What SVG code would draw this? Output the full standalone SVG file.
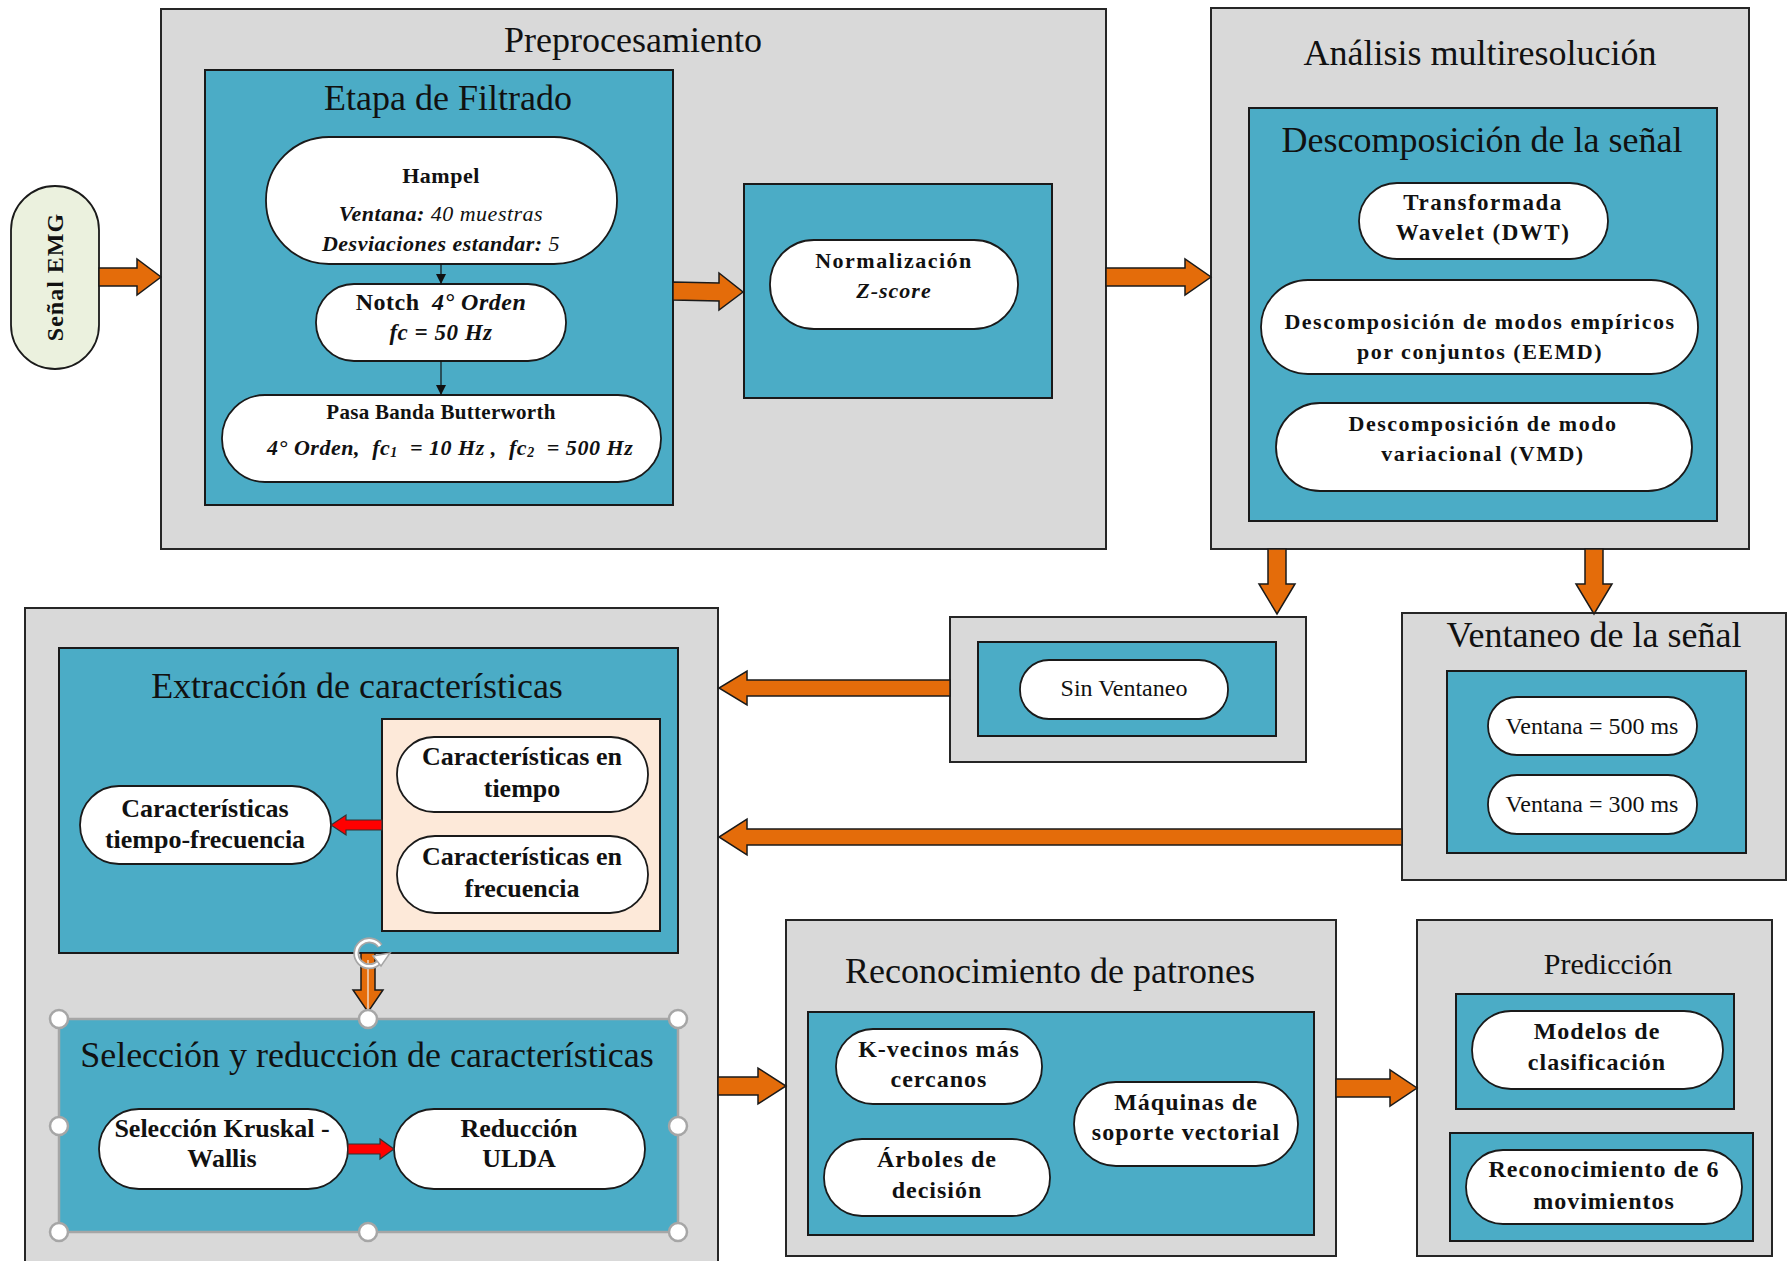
<svg xmlns="http://www.w3.org/2000/svg" width="1789" height="1261" viewBox="0 0 1789 1261">
<defs>
<style>
.gray{fill:#D9D9D9;stroke:#262626;stroke-width:2}
.teal{fill:#4BACC6;stroke:#1a1a1a;stroke-width:2}
.pill{fill:#FFFFFF;stroke:#1a1a1a;stroke-width:1.8}
.title{font-family:"Liberation Serif","Times New Roman",serif;font-size:36px;fill:#111;text-anchor:middle}
.b{font-family:"Liberation Serif","Times New Roman",serif;font-weight:bold;font-size:24px;letter-spacing:1px;fill:#111;text-anchor:middle}
.bc{font-family:"Liberation Serif","Times New Roman",serif;font-weight:bold;font-size:26px;fill:#111;text-anchor:middle}
.r{font-family:"Liberation Serif","Times New Roman",serif;font-size:24px;fill:#111;text-anchor:middle}
.oa{fill:#E46C0A;stroke:#1a1a1a;stroke-width:1.5}
.ra{fill:#FF0000;stroke:#333;stroke-width:1.2}
.h{fill:#FFFFFF;stroke:#A6A6A6;stroke-width:2.5}
</style>
<marker id="ah" viewBox="0 0 10 10" refX="10" refY="5" markerWidth="10" markerHeight="10" markerUnits="userSpaceOnUse" orient="auto">
<path d="M0,0 L10,5 L0,10 Z" fill="#111"/>
</marker>
</defs>
<rect width="1789" height="1261" fill="#FFFFFF"/>

<g id="senal-emg">
<rect x="11" y="186" width="88" height="183" rx="44" ry="44" fill="#EBF1DE" stroke="#1a1a1a" stroke-width="1.8"/>
<text class="b" transform="translate(63,277) rotate(-90)">Señal EMG</text>
</g>

<g id="preprocesamiento">
<rect class="gray" x="161" y="9" width="945" height="540"/>
<text class="title" x="633" y="52">Preprocesamiento</text>
</g>

<g id="etapa-filtrado">
<rect class="teal" x="205" y="70" width="468" height="435"/>
<text class="title" x="448" y="110">Etapa de Filtrado</text>
</g>

<g id="hampel">
<rect class="pill" x="266" y="137" width="351" height="127" rx="63" ry="63"/>
<text class="b" x="441" y="183" style="font-size:22px;letter-spacing:0.5px">Hampel</text>
<text class="r" x="441" y="221" style="font-size:22px;font-style:italic;letter-spacing:0.5px"><tspan font-weight="bold">Ventana:</tspan> 40 muestras</text>
<text class="r" x="441" y="251" style="font-size:22px;font-style:italic;letter-spacing:0.5px"><tspan font-weight="bold">Desviaciones estandar:</tspan> 5</text>
</g>

<g id="notch">
<rect class="pill" x="316" y="284" width="250" height="77" rx="38" ry="38"/>
<text class="b" x="441" y="310" style="font-size:24px;letter-spacing:0.5px">Notch <tspan font-style="italic" dx="6">4° Orden</tspan></text>
<text class="b" x="441" y="340" style="font-size:23px;font-style:italic;letter-spacing:0.5px">fc = 50 Hz</text>
</g>

<g id="pasa-banda">
<rect class="pill" x="222" y="395" width="439" height="87" rx="43" ry="43"/>
<text class="b" x="441" y="419" style="font-size:21px;letter-spacing:0.3px">Pasa Banda Butterworth</text>
<text class="b" x="450" y="455" style="font-size:22px;font-style:italic;letter-spacing:0.3px" xml:space="preserve" textLength="366" lengthAdjust="spacing">4° Orden,  fc<tspan font-size="14" dy="2">1</tspan><tspan dy="-2">  = 10 Hz ,  fc</tspan><tspan font-size="14" dy="2">2</tspan><tspan dy="-2">  = 500 Hz</tspan></text>
</g>

<g id="normalizacion">
<rect class="teal" x="744" y="184" width="308" height="214"/>
<rect class="pill" x="770" y="240" width="248" height="89" rx="44" ry="44"/>
<text class="b" x="894" y="268" style="font-size:22px;letter-spacing:1.5px">Normalización</text>
<text class="b" x="894" y="298" style="font-size:22px;font-style:italic;letter-spacing:1px">Z-score</text>
</g>

<g id="analisis-multiresolucion">
<rect class="gray" x="1211" y="8" width="538" height="541"/>
<text class="title" x="1480" y="65">Análisis multiresolución</text>
</g>

<g id="descomposicion">
<rect class="teal" x="1249" y="108" width="468" height="413"/>
<text class="title" x="1482" y="152">Descomposición de la señal</text>
</g>

<g id="dwt">
<rect class="pill" x="1359" y="183" width="249" height="76" rx="38" ry="38"/>
<text class="b" x="1483" y="210" style="letter-spacing:1.5px;font-size:23px">Transformada</text>
<text class="b" x="1483" y="240" style="letter-spacing:1.5px;font-size:23px">Wavelet (DWT)</text>
</g>

<g id="eemd">
<rect class="pill" x="1261" y="280" width="437" height="94" rx="47" ry="47"/>
<text class="b" x="1480" y="329" style="letter-spacing:1.5px;font-size:22px">Descomposición de modos empíricos</text>
<text class="b" x="1480" y="359" style="letter-spacing:1.5px;font-size:22px">por conjuntos (EEMD)</text>
</g>

<g id="vmd">
<rect class="pill" x="1276" y="403" width="416" height="88" rx="44" ry="44"/>
<text class="b" x="1483" y="431" style="letter-spacing:1.5px;font-size:22px">Descomposición de modo</text>
<text class="b" x="1483" y="461" style="letter-spacing:1.5px;font-size:22px">variacional (VMD)</text>
</g>

<g id="sin-ventaneo">
<rect class="gray" x="950" y="617" width="356" height="145"/>
<rect class="teal" x="978" y="642" width="298" height="94"/>
<rect class="pill" x="1020" y="660" width="208" height="59" rx="29" ry="29"/>
<text class="r" x="1124" y="696" style="font-size:24px">Sin Ventaneo</text>
</g>

<g id="ventaneo">
<rect class="gray" x="1402" y="613" width="384" height="267"/>
<text class="title" x="1594" y="647">Ventaneo de la señal</text>
<rect class="teal" x="1447" y="671" width="299" height="182"/>
<rect class="pill" x="1488" y="697" width="209" height="58" rx="29" ry="29"/>
<text class="r" x="1592" y="734">Ventana = 500 ms</text>
<rect class="pill" x="1488" y="775" width="209" height="59" rx="29" ry="29"/>
<text class="r" x="1592" y="812">Ventana = 300 ms</text>
</g>

<g id="caracteristicas">
<rect class="gray" x="25" y="608" width="693" height="670"/>
</g>

<g id="extraccion">
<rect class="teal" x="59" y="648" width="619" height="305"/>
<text class="title" x="357" y="698">Extracción de características</text>
<rect x="382" y="719" width="278" height="212" fill="#FDE9D9" stroke="#1a1a1a" stroke-width="2"/>
</g>

<g id="car-tiempo">
<rect class="pill" x="397" y="737" width="251" height="75" rx="37" ry="37"/>
<text class="bc" x="522" y="765">Características en</text>
<text class="bc" x="522" y="797">tiempo</text>
</g>

<g id="car-frecuencia">
<rect class="pill" x="397" y="836" width="251" height="77" rx="38" ry="38"/>
<text class="bc" x="522" y="865">Características en</text>
<text class="bc" x="522" y="897">frecuencia</text>
</g>

<g id="car-tiempo-frecuencia">
<rect class="pill" x="80" y="786" width="251" height="78" rx="39" ry="39"/>
<text class="bc" x="205" y="817">Características</text>
<text class="bc" x="205" y="848">tiempo-frecuencia</text>
</g>

<g id="seleccion">
<rect x="59" y="1019" width="619" height="213" fill="#4BACC6" stroke="#A6A6A6" stroke-width="2.5"/>
<text class="title" x="367" y="1067">Selección y reducción de características</text>
</g>

<g id="kruskal">
<rect class="pill" x="99" y="1109" width="249" height="80" rx="40" ry="40"/>
<text class="bc" x="222" y="1137">Selección Kruskal -</text>
<text class="bc" x="222" y="1167">Wallis</text>
</g>

<g id="ulda">
<rect class="pill" x="394" y="1109" width="251" height="80" rx="40" ry="40"/>
<text class="bc" x="519" y="1137">Reducción</text>
<text class="bc" x="519" y="1167">ULDA</text>
</g>

<g id="reconocimiento-patrones">
<rect class="gray" x="786" y="920" width="550" height="336"/>
<text class="title" x="1050" y="983">Reconocimiento de patrones</text>
<rect class="teal" x="808" y="1012" width="506" height="223"/>
</g>

<g id="knn">
<rect class="pill" x="836" y="1029" width="206" height="75" rx="37" ry="37"/>
<text class="b" x="939" y="1057">K-vecinos más</text>
<text class="b" x="939" y="1087">cercanos</text>
</g>

<g id="arboles">
<rect class="pill" x="824" y="1139" width="226" height="77" rx="38" ry="38"/>
<text class="b" x="937" y="1167">Árboles de</text>
<text class="b" x="937" y="1198">decisión</text>
</g>

<g id="svm">
<rect class="pill" x="1074" y="1082" width="224" height="84" rx="42" ry="42"/>
<text class="b" x="1186" y="1110">Máquinas de</text>
<text class="b" x="1186" y="1140">soporte vectorial</text>
</g>

<g id="prediccion">
<rect class="gray" x="1417" y="920" width="355" height="336"/>
<text class="title" x="1608" y="974" style="font-size:30px">Predicción</text>
</g>

<g id="modelos">
<rect class="teal" x="1456" y="994" width="278" height="115"/>
<rect class="pill" x="1472" y="1011" width="251" height="78" rx="39" ry="39"/>
<text class="b" x="1597" y="1039">Modelos de</text>
<text class="b" x="1597" y="1070">clasificación</text>
</g>

<g id="movimientos">
<rect class="teal" x="1450" y="1133" width="303" height="108"/>
<rect class="pill" x="1466" y="1150" width="276" height="74" rx="37" ry="37"/>
<text class="b" x="1604" y="1177">Reconocimiento de 6</text>
<text class="b" x="1604" y="1209">movimientos</text>
</g>

<g id="connectors">
<line x1="441" y1="264" x2="441" y2="284" stroke="#111" stroke-width="1.2" marker-end="url(#ah)"/>
<line x1="441" y1="361" x2="441" y2="395" stroke="#111" stroke-width="1.2" marker-end="url(#ah)"/>
<path class="oa" d="M99,268 L137,268 L137,259 L161,277 L137,295 L137,286 L99,286 Z"/>
<path class="oa" d="M673,282 L719,283 L719,273 L743,292 L719,310 L719,301 L673,300 Z"/>
<path class="oa" d="M1106,268 L1185,268 L1185,259 L1211,277 L1185,295 L1185,286 L1106,286 Z"/>
<path class="oa" d="M1268,549 L1268,584 L1259,584 L1277,614 L1295,584 L1286,584 L1286,549 Z"/>
<path class="oa" d="M1585,549 L1585,584 L1576,584 L1594,614 L1612,584 L1603,584 L1603,549 Z"/>
<path class="oa" d="M950,680 L747,680 L747,671 L719,688 L747,705 L747,696 L950,696 Z"/>
<path class="oa" d="M1402,829 L747,829 L747,819 L719,837 L747,855 L747,845 L1402,845 Z"/>
<path class="oa" d="M361,953 L361,990 L353,990 L368,1012 L383,990 L375,990 L375,953 Z"/>
<path class="oa" d="M718,1077 L758,1077 L758,1068 L786,1086 L758,1104 L758,1095 L718,1095 Z"/>
<path class="oa" d="M1336,1079 L1390,1079 L1390,1070 L1417,1088 L1390,1106 L1390,1097 L1336,1097 Z"/>
<path class="ra" d="M382,820 L346,820 L346,815 L331,825 L346,835 L346,830 L382,830 Z"/>
<path class="ra" d="M348,1144 L380,1144 L380,1139 L394,1149 L380,1159 L380,1154 L348,1154 Z"/>
</g>

<g id="selection-handles">
<line x1="368" y1="960" x2="368" y2="1012" stroke="#F2F2F2" stroke-width="1.2"/>
<path d="M380,946 A13,13 0 1 0 379,962" fill="none" stroke="#A6A6A6" stroke-width="6"/>
<path d="M380,946 A13,13 0 1 0 379,962" fill="none" stroke="#FFFFFF" stroke-width="2.5"/>
<path d="M373,956 L390,953 L381,966 Z" fill="#FFFFFF" stroke="#A6A6A6" stroke-width="1.5"/>
<circle class="h" cx="59" cy="1019" r="9"/>
<circle class="h" cx="368" cy="1019" r="9"/>
<circle class="h" cx="678" cy="1019" r="9"/>
<circle class="h" cx="59" cy="1126" r="9"/>
<circle class="h" cx="678" cy="1126" r="9"/>
<circle class="h" cx="59" cy="1232" r="9"/>
<circle class="h" cx="368" cy="1232" r="9"/>
<circle class="h" cx="678" cy="1232" r="9"/>
</g>
</svg>
